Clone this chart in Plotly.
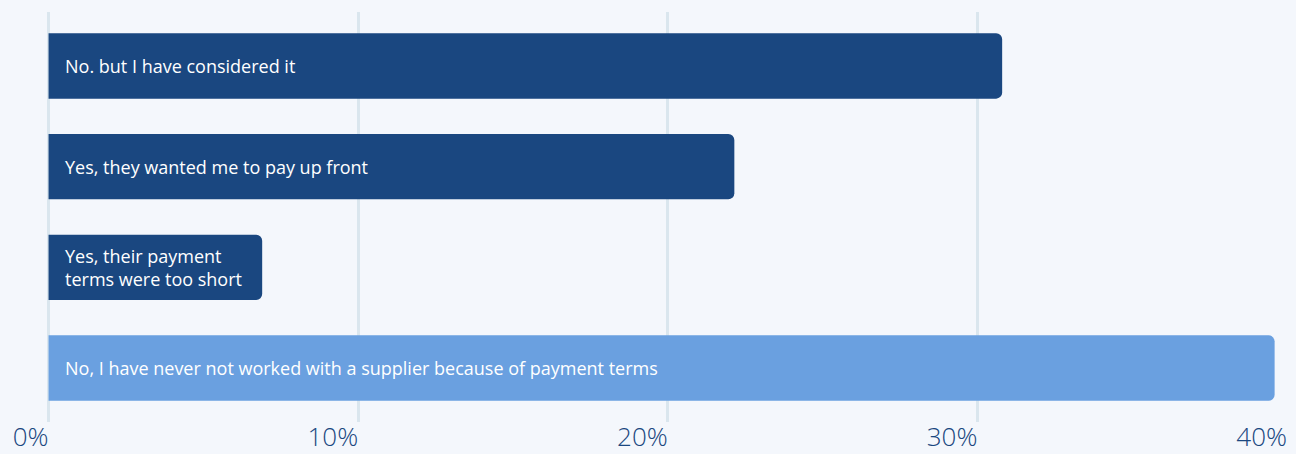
import plotly.graph_objects as go

categories = [
    "No. but I have considered it",
    "Yes, they wanted me to pay up front",
    "Yes, their payment<br>terms were too short",
    "No, I have never not worked with a supplier because of payment terms",
]
values = [30.8, 22.15, 6.9, 39.6]
colors = ["#1a4780", "#1a4780", "#1a4780", "#6aa0e0"]
tick_vals = [0, 10, 20, 30, 40]
tick_text = ["0%", "10%", "20%", "30%", "40%"]

ypos = list(range(len(categories)))

fig = go.Figure()
fig.add_trace(go.Bar(
    x=values, y=ypos, orientation="h",
    marker=dict(color=colors, line=dict(width=0)),
    width=0.65, hoverinfo="skip",
))

for yi, label in zip(ypos, categories):
    fig.add_annotation(
        x=0, y=yi, xref="x", yref="y", text=label, showarrow=False,
        xanchor="left", yanchor="middle", align="left", xshift=14,
        font=dict(family="Open Sans", size=18, color="#ffffff", weight=500),
    )

fig.update_layout(
    width=1296, height=454,
    margin=dict(l=47, r=9, t=12, b=32, autoexpand=False),
    paper_bgcolor="#f4f7fc", plot_bgcolor="#f4f7fc",
    showlegend=False,
    barcornerradius=6,
    xaxis=dict(
        range=[-0.05, 40], tickvals=tick_vals, ticktext=tick_text,
        showgrid=True, gridcolor="#dae6ee", gridwidth=3,
        zeroline=False, showline=False, ticks="", automargin=False,
        ticklabelposition="outside left", ticklabelstandoff=-3,
        tickfont=dict(family="Open Sans", size=26, color="#1a4780", weight=300),
    ),
    yaxis=dict(
        range=[3.535, -0.535], showticklabels=False, showgrid=False,
        zeroline=False, showline=False, ticks="", automargin=False,
    ),
)

fig.write_html(
    "out.html",
    config={"displayModeBar": False},
    post_script="document.body.style.margin='0px';document.body.style.background='#f4f7fc';",
)
